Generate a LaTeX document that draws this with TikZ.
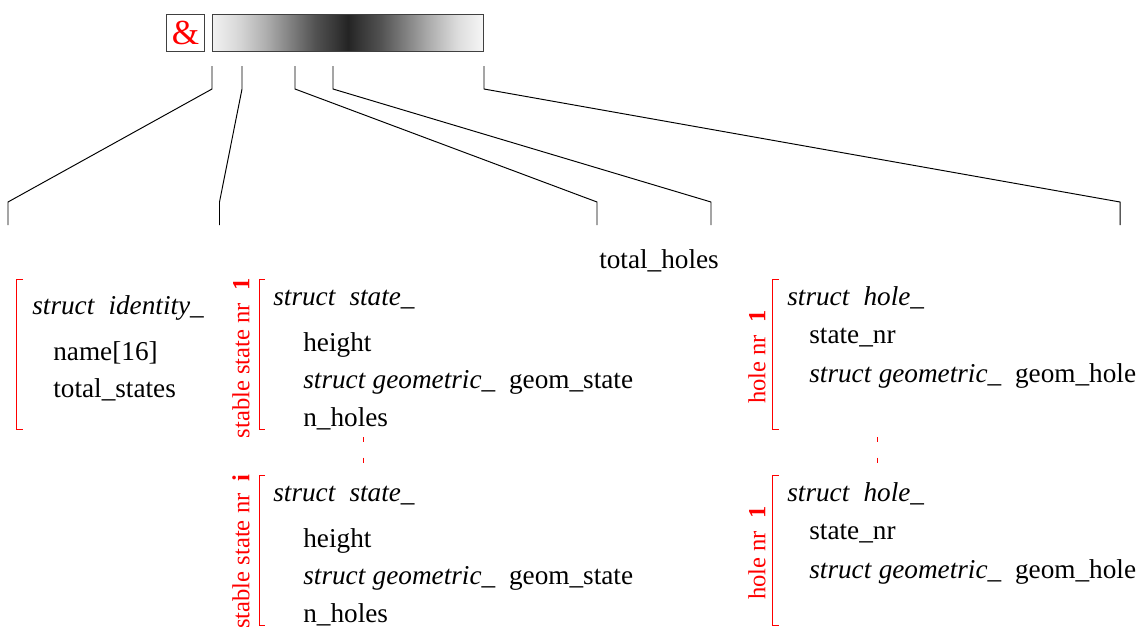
\documentclass[tikz,border=0pt]{standalone}
\usepackage{fontspec}
\setmainfont{Liberation Serif}
\usepackage{tikz}

% soft dark band for the record bar (path is mapped onto 25bp..75bp)
\pgfdeclarehorizontalshading{barfade}{100bp}{
    color(0bp)=(black!5); color(25bp)=(black!5); color(30bp)=(black!16);
    color(35bp)=(black!32); color(40bp)=(black!52); color(44bp)=(black!68);
    color(47.5bp)=(black!78); color(50bp)=(black!86); color(52.5bp)=(black!78);
    color(56bp)=(black!68); color(60bp)=(black!52); color(65bp)=(black!32);
    color(70bp)=(black!14); color(75bp)=(black!3); color(100bp)=(black!3)}

\tikzset{
    field/.style={anchor=base west, inner sep=0pt, font=\fontsize{15.5}{18}\selectfont},
    tag/.style={red, rotate=90, anchor=east, inner sep=0pt, font=\fontsize{14}{16}\selectfont},
    bracket/.style={red, line width=0.55pt},
    link/.style={line width=0.55pt},
}

\begin{document}
\begin{tikzpicture}[x=0.02cm, y=-0.02cm]
    \useasboundingbox (0,0) rectangle (1141,630);
    \clip (0,0) rectangle (1141,630);

    % File header: the & marker and the shaded record bar
    \node[draw=black!75, line width=0.55pt, minimum width=0.76cm, minimum height=0.75cm,
          inner sep=0pt, text=red, font=\fontsize{20}{21}\selectfont] (amp) at (185.5,32.8) {\&};
    \node[draw=black!75, line width=0.55pt, minimum width=5.44cm, minimum height=0.75cm,
          shading=barfade] (bar) at (348,32.8) {};

    % Links from the bar down to the record blocks
    \foreach \i/\a/\b in {1/212/8, 2/242/219.5, 3/295/597, 4/333/711, 5/484/1120} {
        \coordinate (top\i) at (\a,66);
        \coordinate (knee\i) at (\a,89);
        \coordinate (foot\i) at (\b,202);
        \coordinate (end\i) at (\b,225);
        \draw[link] (top\i) -- (knee\i) -- (foot\i) -- (end\i);
    }

    \node[field, anchor=base] (holes) at (659,268) {total\_holes};

    % Identity block
    \draw[bracket] (23,279) -- (16,279) -- (16,429) -- (23,429);
    \node[field] (id) at (32,314) {\textit{struct}~~\textit{identity\_}};
    \node[field] (name) at (53,360) {name[16]};
    \node[field] (tstates) at (53,397) {total\_states};

    % State blocks (first and i-th)
    \foreach \k/\dy/\nr in {1/0/1, 2/196/i} {
        \draw[bracket] (265,279+\dy) -- (259,279+\dy) -- (259,429+\dy) -- (265,429+\dy);
        \node[tag] (stag\k) at (241,278+\dy) {stable state nr\hspace{0.5em}\textbf{\nr}};
        \node[field] (shead\k) at (273,305+\dy) {\textit{struct}~~\textit{state\_}};
        \node[field] (sheight\k) at (303,351+\dy) {height};
        \node[field] (sgeom\k) at (303,388+\dy) {\textit{struct} \textit{geometric\_}~~geom\_state};
        \node[field] (snholes\k) at (303,426+\dy) {n\_holes};
    }

    % Hole blocks
    \foreach \k/\dy in {1/0, 2/196} {
        \draw[bracket] (779,279+\dy) -- (772,279+\dy) -- (772,429+\dy) -- (779,429+\dy);
        \node[tag, anchor=center] (htag\k) at (757,357+\dy) {hole nr\hspace{0.5em}\textbf{1}};
        \node[field] (hhead\k) at (787,305+\dy) {\textit{struct}~~\textit{hole\_}};
        \node[field] (hstate\k) at (809,343+\dy) {state\_nr};
        \node[field] (hgeom\k) at (809,382+\dy) {\textit{struct} \textit{geometric\_}~~geom\_hole};
    }

    % Gaps between repeated blocks
    \draw[red, line width=0.55pt, dash pattern=on 2.8pt off 9pt] (363,437) -- (363,463);
    \draw[red, line width=0.55pt, dash pattern=on 2.8pt off 9pt] (877,437) -- (877,463);

\end{tikzpicture}
\end{document}
